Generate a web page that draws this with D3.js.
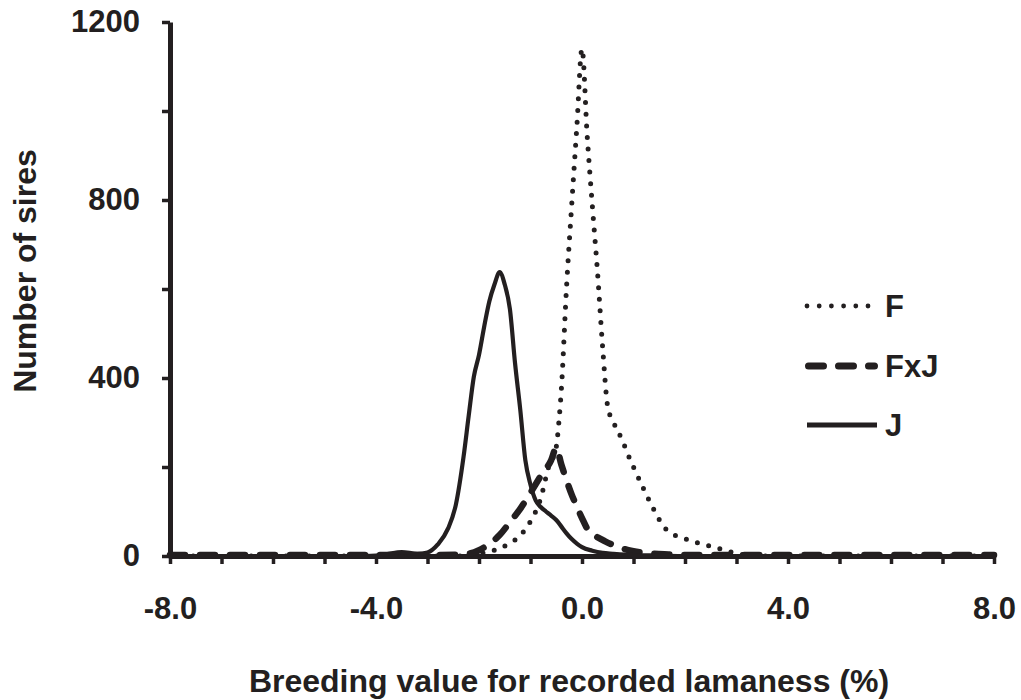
<!DOCTYPE html>
<html>
<head>
<meta charset="utf-8">
<script src="https://cdn.jsdelivr.net/npm/d3@7"></script>
<style>
    body { margin: 0; background: #fff; }
    svg { display: block; font-family: "Liberation Sans", Arial, sans-serif; font-weight: bold; }
</style>
</head>
<body>
<svg id="chart" width="1021" height="700"></svg>
<script>
// Breeding value (x) and number of sires (y) per breed
const fX = [-8, -6, -4, -3, -2.4, -2.2, -2.0, -1.8, -1.6, -1.4, -1.2, -1.0, -0.8, -0.65, -0.5, -0.45, -0.4, -0.3, -0.2, -0.1, 0,
    0.1, 0.2, 0.3, 0.4, 0.5, 0.6, 0.7, 0.8, 0.9, 1.0, 1.2, 1.4, 1.6, 1.8, 2.0, 2.2, 2.4, 2.6, 2.8, 3.0, 3.2, 3.6, 4, 6, 8];
const fY = [0, 0, 0, 0, 0, 2, 5, 10, 17, 29, 46, 78, 130, 200, 245, 300, 376, 605, 789, 965, 1140,
    946, 788, 640, 470, 335, 303, 280, 255, 226, 200, 150, 103, 64, 47, 39, 31, 25, 19, 12, 6, 2, 0, 0, 0, 0];

const fxjX = [-8, -7, -6, -5, -4, -3, -2.4, -2.2, -2.0, -1.8, -1.6, -1.4, -1.2, -1.0, -0.8, -0.6, -0.5,
    -0.4, -0.3, -0.2, -0.1, 0, 0.1, 0.2, 0.3, 0.45, 0.6, 0.9, 1.2, 1.6, 2.0, 3, 4, 5, 6, 7, 8];
const fxjY = [2, 2, 2, 2, 2, 2, 3, 5, 13, 27, 47, 76, 106, 142, 180, 215, 243,
    205, 170, 138, 111, 85, 62, 50, 42, 33, 25, 13, 7, 4, 2, 2, 2, 2, 2, 2, 2];

const jX = [-8, -6, -4.2, -4.0, -3.8, -3.5, -3.2, -3.0, -2.8, -2.6, -2.45, -2.3, -2.2, -2.1, -2.0, -1.9, -1.8, -1.7, -1.6,
    -1.5, -1.4, -1.3, -1.2, -1.1, -1.0, -0.9, -0.8, -0.7, -0.6, -0.5, -0.4, -0.3, -0.2, -0.1, 0, 0.2, 0.4, 0.6, 1.0, 1.5, 2.0, 4, 6, 8];
const jY = [0, 0, 0, 1, 4, 9, 5, 8, 26, 62, 115, 223, 315, 403, 452, 515, 572, 610, 638,
    610, 555, 433, 330, 215, 160, 125, 110, 100, 91, 81, 66, 51, 38, 28, 20, 12, 7, 5, 2, 1, 0, 0, 0, 0];

const seriesNames = ['F', 'FxJ', 'J'];
const xTicks = [-8, -7, -6, -5, -4, -3, -2, -1, 0, 1, 2, 3, 4, 5, 6, 7, 8];
const xTickLabels = ['-8.0', '-4.0', '0.0', '4.0', '8.0'];
const yTicks = [0, 200, 400, 600, 800, 1000, 1200];
const yTickLabels = ['0', '400', '800', '1200'];

const ink = '#231f20';
const svg = d3.select('#chart');

let x = d3.scaleLinear().domain([-8, 8]).range([170, 994]);
let y = d3.scaleLinear().domain([0, 1200]).range([556, 22]);

// axes
let xAxis = svg.append('g')
    .attr('transform', `translate(0,${y(0)})`)
    .call(d3.axisBottom(x)
        .tickValues(xTicks)
        .tickSize(8)
        .tickSizeOuter(0)
        .tickPadding(33)
        .tickFormat(d => xTickLabels.includes(d.toFixed(1)) ? d.toFixed(1) : ''));

let yAxis = svg.append('g')
    .attr('transform', `translate(${x(-8)},0)`)
    .call(d3.axisLeft(y)
        .tickValues(yTicks)
        .tickSize(8)
        .tickSizeOuter(0)
        .tickPadding(22)
        .tickFormat(d => yTickLabels.includes(String(d)) ? String(d) : ''));

[xAxis, yAxis].forEach(g => {
    g.select('.domain').attr('stroke', ink).attr('stroke-width', 5);
    g.selectAll('.tick line').attr('stroke', ink).attr('stroke-width', 3.5);
    g.selectAll('.tick text')
        .attr('fill', ink)
        .style('font-family', '"Liberation Sans", Arial, sans-serif')
        .style('font-weight', 'bold')
        .style('font-size', '31px');
});

// curves
const line = d3.line()
    .x(d => x(d[0]))
    .y(d => y(d[1]))
    .curve(d3.curveMonotoneX);

const styles = {
    F: { width: 5, dash: '0 11.6' },
    FxJ: { width: 6.5, dash: '15 15' },
    J: { width: 4.2, dash: null }
};

let data = {
    F: d3.zip(fX, fY),
    FxJ: d3.zip(fxjX, fxjY),
    J: d3.zip(jX, jY)
};

seriesNames.forEach(name => {
    svg.append('path')
        .datum(data[name])
        .attr('fill', 'none')
        .attr('stroke', ink)
        .attr('stroke-width', styles[name].width)
        .attr('stroke-linecap', 'round')
        .attr('stroke-linejoin', 'round')
        .attr('stroke-dasharray', styles[name].dash)
        .attr('d', line);
});

// legend
const legendRows = [306, 366, 425];
let legend = svg.append('g');
seriesNames.forEach((name, i) => {
    let yy = legendRows[i];
    legend.append('line')
        .attr('x1', name === 'FxJ' ? 808.5 : 807)
        .attr('x2', name === 'F' ? 868 : (name === 'FxJ' ? 874.5 : 877))
        .attr('y1', yy)
        .attr('y2', yy)
        .attr('stroke', ink)
        .attr('stroke-width', name === 'FxJ' ? 7 : 4.8)
        .attr('stroke-linecap', name === 'J' ? 'butt' : 'round')
        .attr('stroke-dasharray', name === 'F' ? '0 12.2' : styles[name].dash);
    legend.append('text')
        .attr('x', 885)
        .attr('y', yy)
        .attr('dy', '0.36em')
        .attr('fill', ink)
        .style('font-size', '31px')
        .text(name);
});

// axis titles
svg.append('text')
    .attr('x', 569)
    .attr('y', 692)
    .attr('text-anchor', 'middle')
    .attr('fill', ink)
    .style('font-size', '32px')
    .text('Breeding value for recorded lamaness (%)');

svg.append('text')
    .attr('transform', 'translate(36,271) rotate(-90)')
    .attr('text-anchor', 'middle')
    .attr('fill', ink)
    .style('font-size', '32px')
    .text('Number of sires');
</script>
</body>
</html>
